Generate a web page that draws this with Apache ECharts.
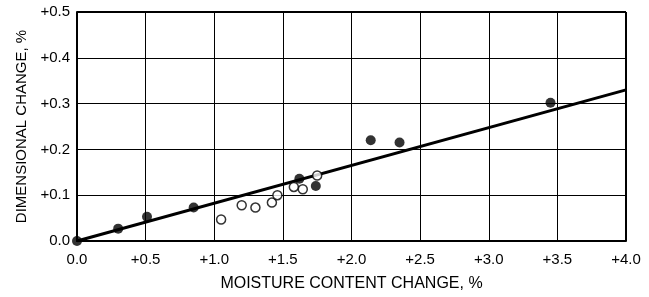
<!DOCTYPE html>
<html>
<head>
<meta charset="utf-8">
<script src="https://cdn.jsdelivr.net/npm/echarts@6/dist/echarts.min.js"></script>
<style>
  html, body { margin: 0; padding: 0; background: #fff; }
  #chart { width: 649px; height: 297px; }
</style>
</head>
<body>
<div id="chart"></div>
<script>
// filled points: [moisture change %, dimensional change %]
var filledPoints = [
  [0.0, 0.0], [0.3, 0.027], [0.51, 0.053], [0.85, 0.073],
  [1.62, 0.136], [1.74, 0.120], [2.14, 0.220], [2.35, 0.215], [3.45, 0.302]
];
// open points
var openPoints = [
  [1.05, 0.047], [1.20, 0.078], [1.30, 0.073], [1.42, 0.084], [1.46, 0.100],
  [1.58, 0.118], [1.645, 0.113], [1.75, 0.143]
];
// fitted line
var fitLine = [[0, 0], [4.0, 0.33]];

var font = "Liberation Sans";
function tickFmt(v) { return v === 0 ? "0.0" : "+" + v.toFixed(1); }

var chart = echarts.init(document.getElementById("chart"));
var option = {
  animation: false,
  grid: { left: 77, top: 12, right: 23, bottom: 54 },
  xAxis: {
    type: "value",
    min: 0, max: 4.0, interval: 0.5,
    name: "MOISTURE CONTENT CHANGE, %",
    nameLocation: "middle",
    nameGap: 35,
    nameTextStyle: { color: "#000", fontFamily: font, fontSize: 16 },
    axisLine: { show: true, lineStyle: { color: "#000", width: 2 } },
    axisTick: { show: false },
    splitLine: { show: true, lineStyle: { color: "#000", width: 1 } },
    axisLabel: { color: "#000", fontFamily: font, fontSize: 15, margin: 11, formatter: tickFmt }
  },
  yAxis: {
    type: "value",
    min: 0, max: 0.5, interval: 0.1,
    name: "DIMENSIONAL CHANGE, %",
    nameLocation: "middle",
    nameGap: 48,
    nameTextStyle: { color: "#000", fontFamily: font, fontSize: 15 },
    axisLine: { show: true, lineStyle: { color: "#000", width: 2 } },
    axisTick: { show: false },
    splitLine: { show: true, lineStyle: { color: "#000", width: 1 } },
    axisLabel: { color: "#000", fontFamily: font, fontSize: 15, margin: 7, formatter: tickFmt }
  },
  series: [
    {
      type: "line",
      data: fitLine,
      symbol: "none",
      lineStyle: { color: "#000", width: 3 },
      z: 2
    },
    {
      type: "scatter",
      data: openPoints,
      symbol: "circle",
      symbolSize: 9,
      itemStyle: { color: "#fff", borderColor: "#000", borderWidth: 1.5 },
      z: 3
    },
    {
      type: "scatter",
      data: filledPoints,
      symbol: "circle",
      symbolSize: 10,
      itemStyle: { color: "#000" },
      z: 4
    },
    {
      // plot frame on top and right
      type: "line",
      data: [],
      markLine: {
        silent: true, symbol: "none", label: { show: false },
        lineStyle: { color: "#000", width: 2, type: "solid" },
        data: [{ yAxis: 0.5 }, { xAxis: 4.0 }]
      }
    }
  ]
};
chart.setOption(option);
</script>
</body>
</html>
